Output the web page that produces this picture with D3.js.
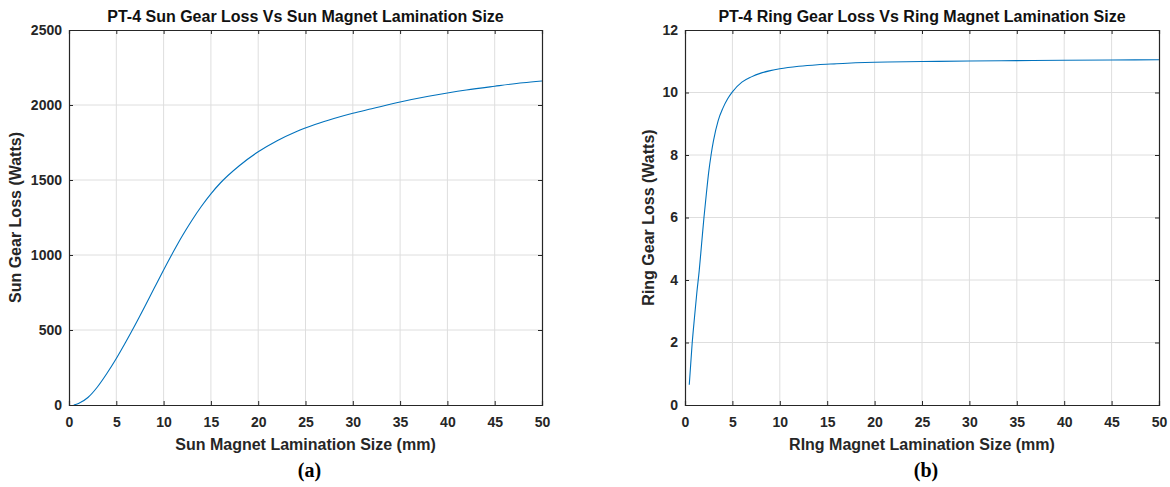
<!DOCTYPE html>
<html>
<head>
<meta charset="utf-8">
<script src="https://cdn.jsdelivr.net/npm/d3@7"></script>
<style>
  body { margin: 0; background: #fff; }
  svg { display: block; }
</style>
</head>
<body>
<div id="chart"></div>
<script>
// sun gear loss (panel a)
const sunSize = [0.5, 1, 2, 3, 4, 5, 6, 7, 8, 9, 10, 11, 12, 13, 14, 15, 16, 18, 20, 22, 24, 26, 28, 30, 32, 35, 38, 40, 42, 45, 48, 50];
const sunLoss = [0, 10, 50, 120, 210, 310, 420, 535, 655, 778, 900, 1018, 1130, 1232, 1325, 1408, 1480, 1595, 1688, 1762, 1822, 1870, 1910, 1945, 1975, 2020, 2058, 2080, 2100, 2125, 2148, 2160];

// ring gear loss (panel b)
const ringSize = [0.45, 0.75, 1, 1.25, 1.5, 1.75, 2, 2.25, 2.5, 2.75, 3, 3.5, 4, 4.5, 5, 6, 7, 8, 9, 10, 12, 14, 16, 18, 20, 25, 30, 35, 40, 45, 50];
const ringLoss = [0.65, 1.95, 2.8, 3.6, 4.3, 5.15, 6.0, 6.75, 7.45, 8.0, 8.45, 9.1, 9.5, 9.8, 10.02, 10.33, 10.5, 10.62, 10.7, 10.76, 10.84, 10.89, 10.92, 10.95, 10.97, 10.99, 11.01, 11.02, 11.03, 11.04, 11.05];

const xTicks = [0, 5, 10, 15, 20, 25, 30, 35, 40, 45, 50];
const sunTicks = [0, 500, 1000, 1500, 2000, 2500];
const ringTicks = [0, 2, 4, 6, 8, 10, 12];

const W = 1170, H = 487;
const svg = d3.select("#chart").append("svg")
    .attr("width", W)
    .attr("height", H);

svg.append("rect").attr("width", W).attr("height", H).attr("fill", "#fff");

const axisColor = "#262626";
const gridColor = "#dedede";
const lineColor = "#0072BD";
const font = "'Liberation Sans', Arial, sans-serif";

function drawPanel(p) {
    const x = d3.scaleLinear().domain([0, 50]).range([p.left, p.right]);
    const y = d3.scaleLinear().domain([0, p.ymax]).range([p.bottom, p.top]);
    const g = svg.append("g");

    // grid
    g.selectAll(".vgrid")
        .data(xTicks.slice(1, -1))
        .enter()
        .append("line")
        .attr("x1", d => x(d)).attr("x2", d => x(d))
        .attr("y1", p.top).attr("y2", p.bottom)
        .attr("stroke", gridColor)
        .attr("stroke-width", 1);

    g.selectAll(".hgrid")
        .data(p.yTicks.slice(1, -1))
        .enter()
        .append("line")
        .attr("x1", p.left).attr("x2", p.right)
        .attr("y1", d => y(d)).attr("y2", d => y(d))
        .attr("stroke", gridColor)
        .attr("stroke-width", 1);

    // curve
    const line = d3.line()
        .x(d => x(d[0]))
        .y(d => y(d[1]))
        .curve(d3.curveMonotoneX);

    g.append("path")
        .datum(p.xs.map((v, i) => [v, p.ys[i]]))
        .attr("fill", "none")
        .attr("stroke", lineColor)
        .attr("stroke-width", 1.1)
        .attr("d", line);

    // axes (ticks inward, MATLAB-ish box)
    const fmt = d3.format("d");
    const bottomAxis = g.append("g")
        .attr("transform", `translate(0,${p.bottom})`)
        .call(d3.axisBottom(x).tickValues(xTicks).tickSize(-4).tickPadding(12).tickFormat(fmt));
    const topAxis = g.append("g")
        .attr("transform", `translate(0,${p.top})`)
        .call(d3.axisTop(x).tickValues(xTicks).tickSize(-4).tickFormat(""));
    const leftAxis = g.append("g")
        .attr("transform", `translate(${p.left},0)`)
        .call(d3.axisLeft(y).tickValues(p.yTicks).tickSize(-4).tickPadding(7).tickFormat(fmt));
    const rightAxis = g.append("g")
        .attr("transform", `translate(${p.right},0)`)
        .call(d3.axisRight(y).tickValues(p.yTicks).tickSize(-4).tickFormat(""));

    [bottomAxis, topAxis, leftAxis, rightAxis].forEach(a => {
        a.select(".domain").attr("stroke", axisColor).attr("stroke-width", 1.2);
        a.selectAll(".tick line").attr("stroke", axisColor).attr("stroke-width", 1);
        a.selectAll("text")
            .attr("fill", axisColor)
            .style("font-family", font)
            .style("font-size", "14px")
            .style("font-weight", "bold");
    });

    // title
    svg.append("text")
        .attr("x", (p.left + p.right) / 2)
        .attr("y", 22)
        .attr("text-anchor", "middle")
        .attr("fill", "#111")
        .style("font-family", font)
        .style("font-size", "16px")
        .style("font-weight", "bold")
        .text(p.title);

    // x label
    svg.append("text")
        .attr("x", (p.left + p.right) / 2)
        .attr("y", 450)
        .attr("text-anchor", "middle")
        .attr("fill", axisColor)
        .style("font-family", font)
        .style("font-size", "16px")
        .style("font-weight", "bold")
        .text(p.xLabel);

    // y label
    svg.append("text")
        .attr("transform", `translate(${p.yLabelX},${(p.top + p.bottom) / 2}) rotate(-90)`)
        .attr("text-anchor", "middle")
        .attr("fill", axisColor)
        .style("font-family", font)
        .style("font-size", "16px")
        .style("font-weight", "bold")
        .text(p.yLabel);

    // panel letter
    svg.append("text")
        .attr("x", (p.left + p.right) / 2 + 4)
        .attr("y", 477)
        .attr("text-anchor", "middle")
        .attr("fill", "#000")
        .style("font-family", "'Liberation Serif', 'Times New Roman', serif")
        .style("font-size", "20px")
        .style("font-weight", "bold")
        .text(p.letter);
}

drawPanel({
    left: 69, right: 542, top: 30, bottom: 405,
    ymax: 2500, yTicks: sunTicks,
    xs: sunSize, ys: sunLoss,
    title: "PT-4 Sun Gear Loss Vs Sun Magnet Lamination Size",
    xLabel: "Sun Magnet Lamination Size (mm)",
    yLabel: "Sun Gear Loss (Watts)",
    yLabelX: 21,
    letter: "(a)"
});

drawPanel({
    left: 685, right: 1159, top: 30, bottom: 405,
    ymax: 12, yTicks: ringTicks,
    xs: ringSize, ys: ringLoss,
    title: "PT-4 Ring Gear Loss Vs Ring Magnet Lamination Size",
    xLabel: "RIng Magnet Lamination Size (mm)",
    yLabel: "Ring Gear Loss (Watts)",
    yLabelX: 654,
    letter: "(b)"
});
</script>
</body>
</html>
